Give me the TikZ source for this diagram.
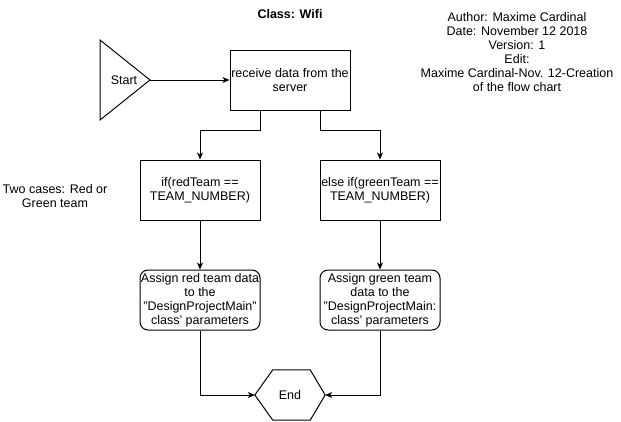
\documentclass[tikz,border=0pt]{standalone}
\usepackage{fontspec}
\setmainfont{Liberation Sans}
\usetikzlibrary{arrows.meta}
\begin{document}
\begin{tikzpicture}[x=1pt,y=-1pt,
  font=\fontsize{12.5}{14}\selectfont,
  proc/.style={draw,line width=1pt,minimum width=120pt,minimum height=60pt,align=center,inner sep=0pt},
  rproc/.style={proc,rounded corners=8pt},
  conn/.style={line width=1pt,-{Stealth[length=7pt,width=6pt,inset=2pt]}},
  plain/.style={align=center,inner sep=0pt}]
\useasboundingbox (0,0) rectangle (621,421);
\fill[white] (0,0) rectangle (621,421);
\node[plain,font=\fontsize{12.5}{14}\selectfont\bfseries] (title) at (290,14) {Class: Wifi};
\node[plain] (info) at (517,52) {Author: Maxime Cardinal\\Date: November 12 2018\\Version: 1\\Edit:\\Maxime Cardinal-Nov. 12-Creation\\of the flow chart};
\node[plain] (cases) at (55,196) {Two cases: Red or\\Green team};
% start triangle
\coordinate (ta) at (100,40);
\coordinate (tb) at (100,120);
\coordinate (apex) at (150,80);
\draw[line width=1pt] (ta) -- (apex) -- (tb) -- cycle;
\node[plain] (start) at (124,80) {Start};
\node[proc] (recv) at (290,80) {receive data from the\\server};
\node[proc] (ifred) at (200,190) {if(redTeam ==\\TEAM\_NUMBER)};
\node[proc] (ifgreen) at (380,190) {else if(greenTeam ==\\TEAM\_NUMBER)};
\node[rproc] (assred) at (200,300) {Assign red team data\\to the\\"DesignProjectMain"\\class' parameters};
\node[rproc] (assgreen) at (380,300) {Assign green team\\data to the\\"DesignProjectMain:\\class' parameters};
\node[minimum width=70pt,minimum height=50pt,inner sep=0pt] (end) at (290,395) {End};
\draw[line width=1pt] (end.west) -- ([xshift=18pt]end.north west) -- ([xshift=-15pt]end.north east) -- (end.east) -- ([xshift=-15pt]end.south east) -- ([xshift=18pt]end.south west) -- cycle;
\draw[conn] (apex) -- (recv.west);
\draw[conn] ([xshift=-30pt]recv.south) -- ++(0,20) -| (ifred.north);
\draw[conn] ([xshift=30pt]recv.south) -- ++(0,20) -| (ifgreen.north);
\draw[conn] (ifred) -- (assred);
\draw[conn] (ifgreen) -- (assgreen);
\draw[conn] (assred.south) |- (end.west);
\draw[conn] (assgreen.south) |- (end.east);
\end{tikzpicture}
\end{document}
